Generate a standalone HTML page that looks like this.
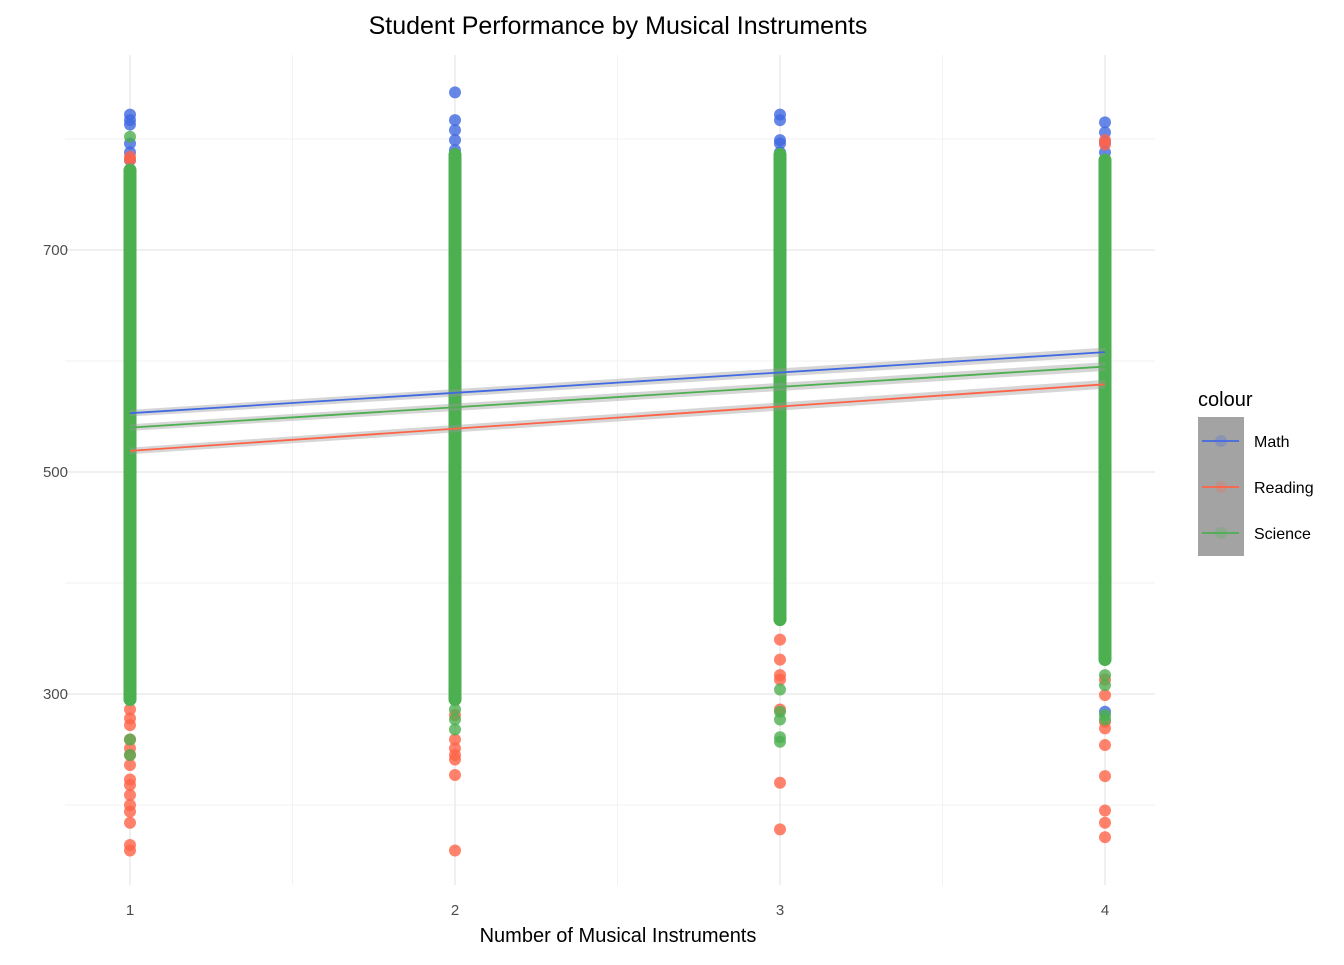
<!DOCTYPE html>
<html><head><meta charset="utf-8"><style>
body{margin:0;background:#fff;font-family:"Liberation Sans",sans-serif}
</style></head><body>
<svg id="c" width="1344" height="960" xmlns="http://www.w3.org/2000/svg" font-family="Liberation Sans, sans-serif"></svg>
<script>
const categories=[1,2,3,4];
const series=["Math","Reading","Science"];
const colors=["#4169e1","#ff6347","#4caf50"];
const scienceMin=[295,295,367,331];
const scienceMax=[772,786,786,781];
const readingMin=[300,305,372,340];
const readingMax=[760,770,770,775];
const mathOutliers=[[822,817,813,796,788,781],[842,817,808,799,790],[822,817,799,796,788],[815,806,797,788,779,284]];
const readingOutliers=[[784,781,286,278,272,259,251,245,236,223,218,209,200,194,184,164,159],[299,281,259,251,245,241,227,159],[349,331,317,313,286,220,178],[799,795,349,331,313,299,275,269,254,226,195,184,171]];
const scienceOutliers=[[802,259,245],[286,277,268],[304,284,277,261,257],[317,308,281,277]];
const fitStart=[553,519,540];
const fitEnd=[608,579,595];
const yTicks=[300,500,700];
const yMinor=[200,400,600,800];
const xTicks=["1","2","3","4"];

const svg=document.getElementById('c');const NS="http://www.w3.org/2000/svg";
const X=v=>130+(v-1)*325, Y=v=>472-(v-500)*1.11;
function mk(t,a,p){const e=document.createElementNS(NS,t);for(const k in a)e.setAttribute(k,a[k]);(p||svg).appendChild(e);return e;}
const grid=mk('g',{});
yMinor.forEach(v=>mk('line',{x1:65,x2:1155,y1:Y(v),y2:Y(v),stroke:'#f2f2f2','stroke-width':1},grid));
[1.5,2.5,3.5].forEach(v=>mk('line',{x1:X(v),x2:X(v),y1:55,y2:885,stroke:'#f2f2f2','stroke-width':1},grid));
yTicks.forEach(v=>mk('line',{x1:65,x2:1155,y1:Y(v),y2:Y(v),stroke:'#ebebeb','stroke-width':1.5},grid));
categories.forEach(v=>mk('line',{x1:X(v),x2:X(v),y1:55,y2:885,stroke:'#ebebeb','stroke-width':1.5},grid));
const pts=mk('g',{});
function dot(c,v,col){const e=mk('circle',{cx:X(c),cy:Y(v),r:6,fill:col,'fill-opacity':0.8},pts);}
categories.forEach((c,i)=>{
  mathOutliers[i].forEach(v=>dot(c,v,colors[0]));
  const r=mk('rect',{x:X(c)-6,y:Y(readingMax[i])-6,width:12,height:Y(readingMin[i])-Y(readingMax[i])+12,rx:6,fill:colors[1]},pts);
  
  readingOutliers[i].forEach(v=>dot(c,v,colors[1]));
  scienceOutliers[i].forEach(v=>dot(c,v,colors[2]));
  const s=mk('rect',{x:X(c)-6.5,y:Y(scienceMax[i])-6.5,width:13,height:Y(scienceMin[i])-Y(scienceMax[i])+13,rx:6.5,fill:colors[2]},pts);
  
});
series.forEach((n,i)=>{
  const a=fitStart[i],b=fitEnd[i];
  const rb=mk('polygon',{points:`${X(1)},${Y(a+3)} ${X(4)},${Y(b+4)} ${X(4)},${Y(b-4)} ${X(1)},${Y(a-3)}`,fill:'#999','fill-opacity':0.4});
  
  const l=mk('line',{x1:X(1),y1:Y(a),x2:X(4),y2:Y(b),stroke:colors[i],'stroke-width':1.8});
  
});
yTicks.forEach(v=>{const t=mk('text',{x:68,y:Y(v)+5,'text-anchor':'end','font-size':15,fill:'#4d4d4d'});t.textContent=v;});
categories.forEach((c,i)=>{const t=mk('text',{x:X(c),y:915,'text-anchor':'middle','font-size':15,fill:'#4d4d4d'});t.textContent=xTicks[i];});
let t=mk('text',{x:618,y:34,'text-anchor':'middle','font-size':25,fill:'#000'});t.textContent='Student Performance by Musical Instruments';
t=mk('text',{x:618,y:942,'text-anchor':'middle','font-size':20,fill:'#000'});t.textContent='Number of Musical Instruments';
const lg=mk('g',{});
t=mk('text',{x:1198,y:406,'font-size':20,fill:'#000'},lg);t.textContent='colour';
mk('rect',{x:1198,y:417,width:46,height:139,fill:'#a3a3a3'},lg);
series.forEach((n,i)=>{const y=441+i*46;
  const g=mk('g',{},lg);
  mk('circle',{cx:1221,cy:y,r:6,fill:colors[i],'fill-opacity':0.25},g);
  mk('line',{x1:1202,x2:1239,y1:y,y2:y,stroke:colors[i],'stroke-width':1.8},g);
  const tt=mk('text',{x:1254,y:y+6,'font-size':16,fill:'#000'},g);tt.textContent=n;});
</script>
</body></html>
